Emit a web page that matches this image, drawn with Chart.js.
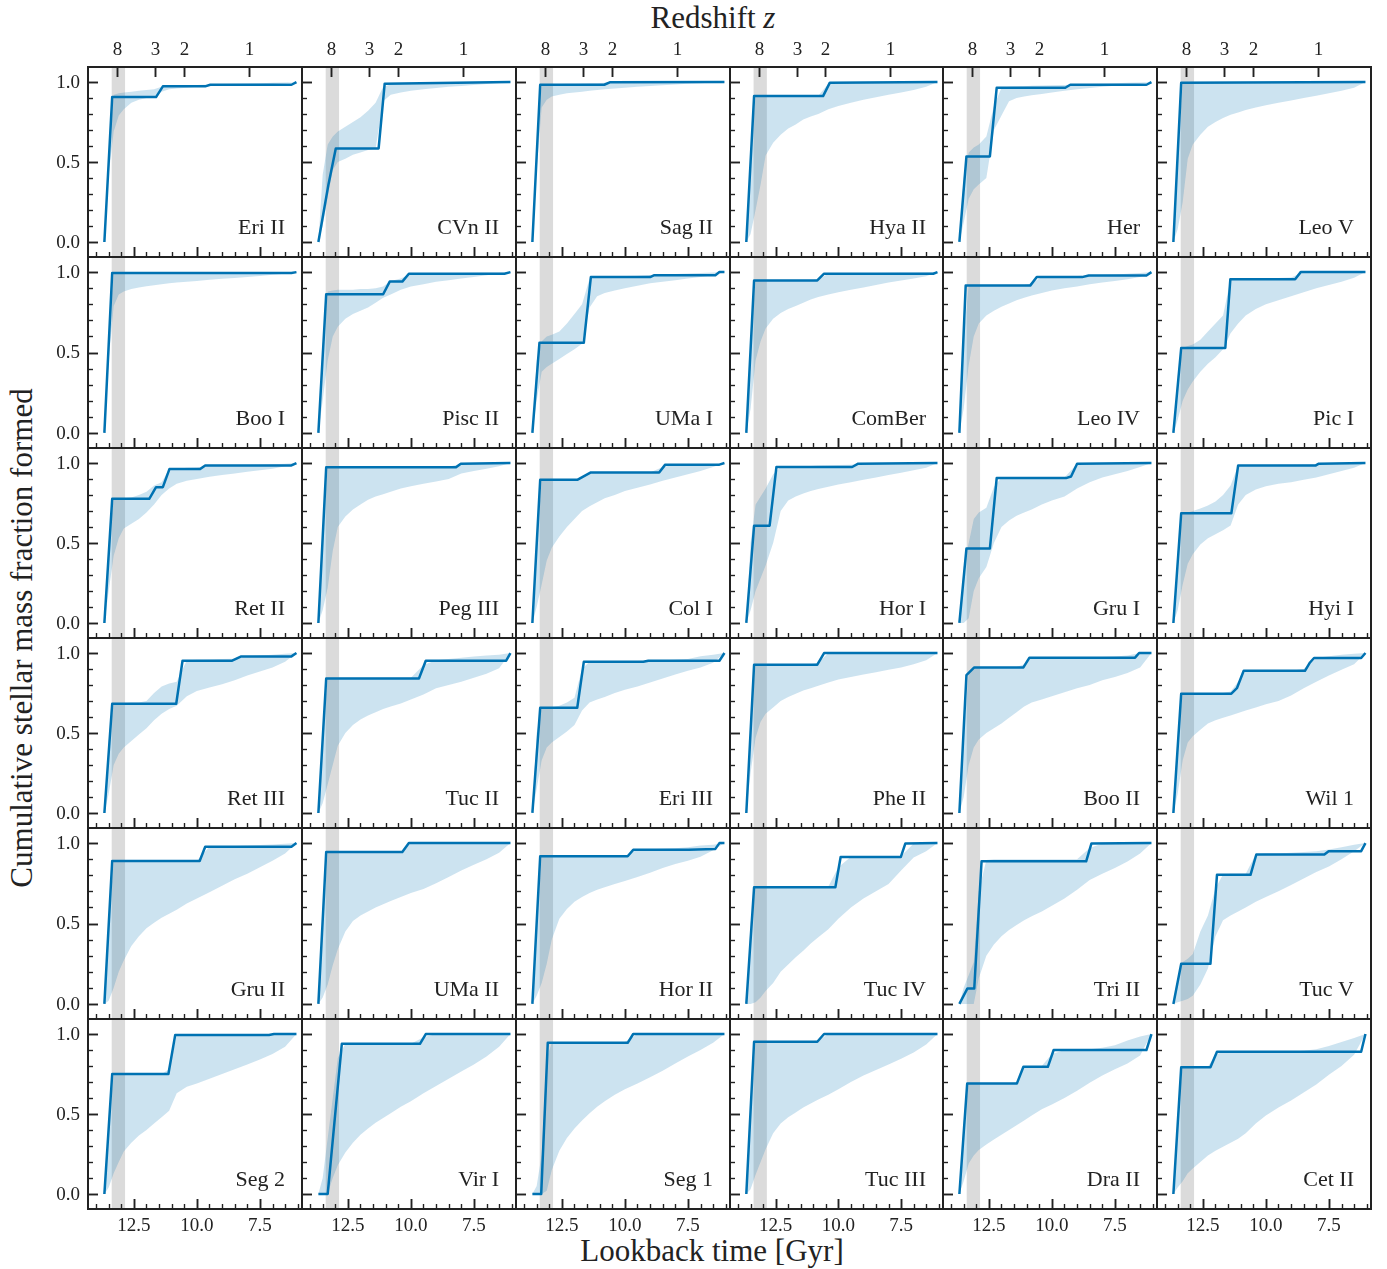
<!DOCTYPE html>
<html>
<head>
<meta charset="utf-8">
<script src="https://cdn.jsdelivr.net/npm/chart.js@4.4.4/dist/chart.umd.min.js"></script>
<style>
  body { margin: 0; background: #fff; }
  #wrap { position: relative; width: 1387px; height: 1269px; overflow: hidden; font-family: "Liberation Serif", serif; color: #222; }
  #wrap canvas { position: absolute; }
  .ttl { position: absolute; white-space: nowrap; font-size: 31px; transform: translate(-50%, -50%); }
</style>
</head>
<body>
<div id="wrap">
  <div class="ttl" style="left:713px; top:18px;">Redshift <i>z</i></div>
  <div class="ttl" style="left:712px; top:1251px;">Lookback time [Gyr]</div>
  <div class="ttl" style="left:22px; top:638px; transform: translate(-50%, -50%) rotate(-90deg);">Cumulative stellar mass fraction formed</div>
</div>
<script>
// one panel per galaxy, row-major order
const galaxyNames = [
  'Eri II', 'CVn II', 'Sag II', 'Hya II', 'Her', 'Leo V',
  'Boo I', 'Pisc II', 'UMa I', 'ComBer', 'Leo IV', 'Pic I',
  'Ret II', 'Peg III', 'Col I', 'Hor I', 'Gru I', 'Hyi I',
  'Ret III', 'Tuc II', 'Eri III', 'Phe II', 'Boo II', 'Wil 1',
  'Gru II', 'UMa II', 'Hor II', 'Tuc IV', 'Tri II', 'Tuc V',
  'Seg 2', 'Vir I', 'Seg 1', 'Tuc III', 'Dra II', 'Cet II'
];

// best-fit cumulative SFH: lookback times (Gyr) and mass fraction
const lineTimes = [
  [13.67, 13.36, 11.62, 11.35, 9.67, 9.47, 6.25, 6.05],
  [13.67, 13.27, 12.98, 11.28, 11.04, 6.05],
  [13.67, 13.36, 10.82, 10.6, 6.05],
  [13.67, 13.36, 10.61, 10.34, 6.05],
  [13.67, 13.39, 12.46, 12.19, 9.47, 9.27, 6.25, 6.05],
  [13.67, 13.36, 6.05],
  [13.67, 13.36, 6.25, 6.05],
  [13.67, 13.36, 11.10, 10.84, 10.34, 10.08, 6.29, 6.05],
  [13.67, 13.39, 11.63, 11.35, 9.0, 8.83, 6.41, 6.25, 6.05],
  [13.67, 13.36, 10.84, 10.57, 6.22, 6.05],
  [13.67, 13.42, 10.86, 10.6, 8.8, 8.54, 6.25, 6.05],
  [13.67, 13.36, 11.61, 11.41, 8.84, 8.62, 6.05],
  [13.67, 13.36, 11.89, 11.62, 11.35, 11.09, 9.87, 9.67, 6.25, 6.05],
  [13.67, 13.36, 8.21, 8.02, 6.05],
  [13.67, 13.36, 11.89, 11.35, 8.64, 8.40, 6.25, 6.05],
  [13.67, 13.36, 12.74, 12.47, 9.45, 9.21, 6.05],
  [13.67, 13.39, 12.46, 12.19, 9.44, 9.24, 9.0, 6.05],
  [13.67, 13.36, 11.37, 11.10, 8.02, 7.9, 6.05],
  [13.67, 13.36, 10.82, 10.57, 8.6, 8.24, 6.25, 6.05],
  [13.67, 13.36, 9.68, 9.41, 6.22, 6.05],
  [13.67, 13.36, 11.89, 11.63, 9.27, 9.07, 6.25, 6.05],
  [13.67, 13.36, 10.84, 10.57, 6.05],
  [13.67, 13.39, 13.08, 11.13, 10.89, 6.7, 6.54, 6.05],
  [13.67, 13.36, 11.37, 11.15, 10.88, 8.45, 8.25, 8.09, 6.22, 6.05],
  [13.67, 13.36, 9.89, 9.67, 6.25, 6.05],
  [13.67, 13.36, 10.34, 10.08, 6.05],
  [13.67, 13.36, 9.89, 9.67, 7.47, 6.41, 6.25, 6.05],
  [13.67, 13.36, 10.12, 9.91, 7.51, 7.33, 6.05],
  [13.67, 13.35, 13.08, 12.79, 8.64, 8.43, 6.05],
  [13.67, 13.36, 12.2, 11.94, 10.61, 10.38, 7.68, 7.51, 6.22, 6.05],
  [13.67, 13.36, 11.13, 10.86, 7.14, 6.94, 6.05],
  [13.67, 13.30, 12.74, 9.64, 9.41, 6.05],
  [13.67, 13.32, 13.06, 9.89, 9.67, 6.05],
  [13.67, 13.36, 10.84, 10.57, 6.05],
  [13.67, 13.36, 11.39, 11.13, 10.16, 9.93, 6.25, 6.05],
  [13.67, 13.36, 12.2, 11.94, 6.22, 6.05]
];
const lineFrac = [
  [0, 0.906, 0.906, 0.973, 0.973, 0.983, 0.983, 1],
  [0, 0.36, 0.585, 0.585, 0.99, 1],
  [0, 0.983, 0.983, 0.998, 1],
  [0, 0.912, 0.912, 0.996, 1],
  [0, 0.535, 0.535, 0.964, 0.964, 0.983, 0.983, 1],
  [0, 0.996, 1],
  [0, 0.995, 0.995, 1],
  [0, 0.862, 0.862, 0.941, 0.941, 0.99, 0.99, 1],
  [0, 0.56, 0.56, 0.969, 0.969, 0.981, 0.981, 1, 1],
  [0, 0.948, 0.948, 0.99, 0.99, 1],
  [0, 0.916, 0.916, 0.969, 0.969, 0.979, 0.979, 1],
  [0, 0.528, 0.528, 0.956, 0.956, 1, 1],
  [0, 0.776, 0.776, 0.849, 0.849, 0.962, 0.962, 0.985, 0.985, 1],
  [0, 0.973, 0.973, 0.996, 1],
  [0, 0.895, 0.895, 0.941, 0.941, 0.99, 0.99, 1],
  [0, 0.608, 0.608, 0.975, 0.975, 0.996, 1],
  [0, 0.465, 0.465, 0.906, 0.906, 0.916, 0.996, 1],
  [0, 0.686, 0.686, 0.985, 0.985, 0.996, 1],
  [0, 0.683, 0.683, 0.952, 0.952, 0.979, 0.979, 1],
  [0, 0.841, 0.841, 0.952, 0.952, 1],
  [0, 0.658, 0.658, 0.945, 0.945, 0.952, 0.952, 1],
  [0, 0.927, 0.927, 1, 1],
  [0, 0.862, 0.91, 0.91, 0.971, 0.971, 1, 1],
  [0, 0.746, 0.746, 0.78, 0.889, 0.889, 0.941, 0.969, 0.969, 1],
  [0, 0.889, 0.889, 0.977, 0.977, 1],
  [0, 0.945, 0.945, 1, 1],
  [0, 0.918, 0.918, 0.958, 0.958, 0.964, 1, 1],
  [0, 0.725, 0.725, 0.914, 0.914, 0.998, 1],
  [0, 0.096, 0.096, 0.887, 0.887, 0.998, 1],
  [0, 0.249, 0.249, 0.803, 0.803, 0.929, 0.929, 0.95, 0.95, 1],
  [0, 0.75, 0.75, 0.994, 0.994, 1, 1],
  [0, 0, 0.939, 0.939, 1, 1],
  [0, 0, 0.945, 0.945, 1, 1],
  [0, 0.952, 0.952, 1, 1],
  [0, 0.69, 0.69, 0.795, 0.795, 0.9, 0.9, 1],
  [0, 0.792, 0.792, 0.889, 0.889, 1]
];

// 68% band, sampled on a common time grid
const bandTimes = [13.67, 13.5, 13.3, 13.1, 12.9, 12.6, 12.3, 12.0, 11.7, 11.4, 11.1, 10.8, 10.4, 10.0, 9.5, 9.0, 8.5, 8.0, 7.5, 7.0, 6.5, 6.05];
const bandLow = [
  [0, 0.42, 0.69, 0.79, 0.83, 0.87, 0.89, 0.90, 0.905, 0.94, 0.955, 0.96, 0.965, 0.97, 0.975, 0.978, 0.98, 0.983, 0.985, 0.988, 0.992, 1],
  [0, 0.1, 0.28, 0.45, 0.5, 0.52, 0.545, 0.56, 0.575, 0.585, 0.88, 0.92, 0.935, 0.945, 0.955, 0.962, 0.97, 0.975, 0.982, 0.988, 0.994, 1],
  [0, 0.45, 0.84, 0.89, 0.91, 0.92, 0.93, 0.935, 0.94, 0.945, 0.95, 0.955, 0.96, 0.965, 0.97, 0.975, 0.98, 0.985, 0.99, 0.993, 0.997, 1],
  [0, 0.05, 0.2, 0.36, 0.54, 0.62, 0.67, 0.71, 0.735, 0.765, 0.785, 0.8, 0.83, 0.85, 0.87, 0.89, 0.905, 0.92, 0.935, 0.95, 0.97, 1],
  [0, 0.12, 0.27, 0.33, 0.36, 0.40, 0.7, 0.79, 0.88, 0.9, 0.91, 0.918, 0.925, 0.935, 0.945, 0.955, 0.963, 0.97, 0.977, 0.984, 0.99, 1],
  [0, 0.08, 0.25, 0.52, 0.61, 0.67, 0.72, 0.75, 0.775, 0.795, 0.81, 0.825, 0.84, 0.855, 0.87, 0.885, 0.9, 0.915, 0.93, 0.945, 0.965, 1],
  [0, 0.45, 0.79, 0.86, 0.88, 0.895, 0.905, 0.912, 0.918, 0.924, 0.93, 0.935, 0.94, 0.945, 0.952, 0.958, 0.964, 0.97, 0.976, 0.983, 0.99, 1],
  [0, 0.2, 0.45, 0.6, 0.66, 0.71, 0.74, 0.76, 0.78, 0.81, 0.84, 0.86, 0.89, 0.91, 0.925, 0.94, 0.95, 0.96, 0.97, 0.98, 0.99, 1],
  [0, 0.2, 0.38, 0.41, 0.43, 0.46, 0.49, 0.52, 0.555, 0.78, 0.85, 0.87, 0.885, 0.9, 0.915, 0.93, 0.94, 0.95, 0.96, 0.97, 0.98, 1],
  [0, 0.15, 0.45, 0.57, 0.65, 0.71, 0.745, 0.77, 0.79, 0.81, 0.83, 0.845, 0.86, 0.875, 0.89, 0.905, 0.92, 0.935, 0.948, 0.96, 0.975, 1],
  [0, 0.15, 0.42, 0.6, 0.68, 0.73, 0.76, 0.785, 0.805, 0.825, 0.84, 0.855, 0.87, 0.885, 0.9, 0.91, 0.925, 0.935, 0.945, 0.955, 0.97, 1],
  [0, 0.08, 0.2, 0.27, 0.32, 0.38, 0.43, 0.47, 0.52, 0.62, 0.68, 0.73, 0.77, 0.8, 0.825, 0.85, 0.875, 0.9, 0.92, 0.94, 0.965, 1],
  [0, 0.2, 0.42, 0.53, 0.59, 0.62, 0.65, 0.69, 0.74, 0.8, 0.84, 0.87, 0.89, 0.9, 0.915, 0.925, 0.935, 0.945, 0.955, 0.965, 0.98, 1],
  [0, 0.08, 0.22, 0.45, 0.6, 0.665, 0.71, 0.74, 0.77, 0.79, 0.805, 0.82, 0.84, 0.855, 0.87, 0.885, 0.9, 0.935, 0.95, 0.965, 0.98, 1],
  [0, 0.1, 0.24, 0.39, 0.47, 0.54, 0.6, 0.65, 0.7, 0.73, 0.755, 0.78, 0.8, 0.825, 0.845, 0.865, 0.89, 0.91, 0.93, 0.95, 0.975, 1],
  [0, 0.08, 0.2, 0.28, 0.36, 0.5, 0.7, 0.765, 0.79, 0.81, 0.825, 0.838, 0.852, 0.865, 0.88, 0.895, 0.91, 0.925, 0.94, 0.955, 0.97, 1],
  [0, 0, 0.03, 0.2, 0.28, 0.35, 0.5, 0.6, 0.64, 0.67, 0.69, 0.71, 0.74, 0.765, 0.79, 0.84, 0.88, 0.91, 0.93, 0.95, 0.975, 1],
  [0, 0.08, 0.24, 0.37, 0.43, 0.49, 0.53, 0.555, 0.58, 0.61, 0.74, 0.8, 0.835, 0.855, 0.87, 0.88, 0.895, 0.91, 0.93, 0.95, 0.97, 1],
  [0, 0.12, 0.3, 0.37, 0.41, 0.45, 0.49, 0.53, 0.58, 0.62, 0.65, 0.67, 0.73, 0.763, 0.785, 0.805, 0.83, 0.86, 0.885, 0.91, 0.945, 1],
  [0, 0.06, 0.18, 0.3, 0.42, 0.5, 0.55, 0.585, 0.61, 0.63, 0.65, 0.665, 0.685, 0.71, 0.74, 0.78, 0.8, 0.82, 0.845, 0.87, 0.905, 1],
  [0, 0.15, 0.33, 0.41, 0.44, 0.475, 0.51, 0.55, 0.64, 0.69, 0.71, 0.725, 0.75, 0.77, 0.79, 0.815, 0.84, 0.865, 0.89, 0.91, 0.94, 1],
  [0, 0.25, 0.47, 0.57, 0.62, 0.66, 0.7, 0.725, 0.745, 0.765, 0.78, 0.795, 0.815, 0.835, 0.85, 0.865, 0.88, 0.895, 0.91, 0.93, 0.955, 1],
  [0, 0.1, 0.3, 0.41, 0.46, 0.5, 0.53, 0.56, 0.595, 0.63, 0.665, 0.69, 0.71, 0.73, 0.755, 0.78, 0.8, 0.83, 0.85, 0.875, 0.91, 1],
  [0, 0.12, 0.33, 0.44, 0.48, 0.52, 0.56, 0.58, 0.595, 0.61, 0.625, 0.64, 0.66, 0.68, 0.7, 0.735, 0.78, 0.82, 0.86, 0.895, 0.93, 1],
  [0, 0.02, 0.1, 0.2, 0.27, 0.36, 0.42, 0.47, 0.505, 0.535, 0.56, 0.585, 0.625, 0.655, 0.695, 0.735, 0.775, 0.81, 0.85, 0.89, 0.935, 1],
  [0, 0.04, 0.12, 0.24, 0.34, 0.45, 0.515, 0.55, 0.575, 0.6, 0.62, 0.64, 0.665, 0.69, 0.715, 0.75, 0.79, 0.83, 0.865, 0.9, 0.94, 1],
  [0, 0.05, 0.13, 0.25, 0.4, 0.53, 0.59, 0.635, 0.665, 0.69, 0.71, 0.725, 0.745, 0.765, 0.79, 0.815, 0.845, 0.87, 0.89, 0.915, 0.955, 1],
  [0, 0, 0.01, 0.04, 0.08, 0.13, 0.2, 0.245, 0.29, 0.33, 0.375, 0.415, 0.465, 0.53, 0.6, 0.655, 0.7, 0.745, 0.83, 0.91, 0.95, 1],
  [0, 0, 0, 0, 0.16, 0.3, 0.37, 0.42, 0.46, 0.49, 0.52, 0.545, 0.575, 0.61, 0.655, 0.71, 0.77, 0.81, 0.845, 0.885, 0.935, 1],
  [0, 0.01, 0.02, 0.03, 0.05, 0.12, 0.22, 0.42, 0.52, 0.55, 0.575, 0.6, 0.635, 0.665, 0.7, 0.74, 0.78, 0.82, 0.855, 0.9, 0.95, 1],
  [0, 0.04, 0.13, 0.2, 0.265, 0.32, 0.365, 0.4, 0.44, 0.48, 0.52, 0.63, 0.67, 0.69, 0.72, 0.75, 0.78, 0.81, 0.84, 0.875, 0.92, 1],
  [0, 0, 0, 0.1, 0.18, 0.26, 0.32, 0.37, 0.41, 0.445, 0.475, 0.505, 0.545, 0.58, 0.63, 0.675, 0.72, 0.765, 0.81, 0.86, 0.92, 1],
  [0, 0, 0, 0.02, 0.15, 0.27, 0.35, 0.41, 0.46, 0.505, 0.545, 0.58, 0.62, 0.655, 0.69, 0.73, 0.77, 0.815, 0.86, 0.9, 0.945, 1],
  [0, 0.03, 0.12, 0.2, 0.28, 0.38, 0.44, 0.48, 0.51, 0.54, 0.565, 0.59, 0.62, 0.655, 0.7, 0.74, 0.775, 0.81, 0.845, 0.885, 0.935, 1],
  [0, 0.08, 0.19, 0.24, 0.275, 0.31, 0.34, 0.37, 0.4, 0.43, 0.46, 0.49, 0.53, 0.56, 0.6, 0.645, 0.695, 0.74, 0.78, 0.815, 0.865, 1],
  [0, 0.04, 0.08, 0.13, 0.16, 0.2, 0.24, 0.27, 0.295, 0.32, 0.345, 0.38, 0.44, 0.49, 0.54, 0.585, 0.635, 0.685, 0.745, 0.8, 0.87, 1]
];
const bandHigh = [
  [0, 0.55, 0.92, 0.93, 0.935, 0.94, 0.945, 0.95, 0.955, 0.97, 0.975, 0.978, 0.98, 0.982, 0.985, 0.988, 0.99, 0.991, 0.993, 0.995, 0.997, 1],
  [0, 0.42, 0.61, 0.66, 0.69, 0.72, 0.75, 0.78, 0.82, 0.87, 0.97, 0.985, 0.99, 0.99, 0.992, 0.994, 0.995, 0.996, 0.997, 0.998, 0.999, 1],
  [0, 0.6, 0.985, 0.986, 0.987, 0.988, 0.989, 0.99, 0.991, 0.992, 0.993, 0.995, 0.998, 0.998, 0.998, 0.999, 0.999, 0.999, 1, 1, 1, 1],
  [0, 0.55, 0.915, 0.915, 0.915, 0.915, 0.915, 0.915, 0.915, 0.915, 0.915, 0.915, 0.99, 0.997, 0.997, 0.998, 0.998, 0.998, 0.999, 0.999, 1, 1],
  [0, 0.4, 0.56, 0.59, 0.61, 0.66, 0.85, 0.965, 0.97, 0.972, 0.974, 0.976, 0.978, 0.98, 0.982, 0.985, 0.988, 0.99, 0.992, 0.995, 0.997, 1],
  [0, 0.55, 0.997, 0.997, 0.997, 0.997, 0.997, 0.997, 0.997, 0.997, 0.997, 0.997, 0.998, 0.998, 0.998, 0.998, 0.998, 0.999, 0.999, 0.999, 1, 1],
  [0, 0.6, 0.997, 0.998, 0.998, 0.998, 0.998, 0.998, 0.998, 0.998, 0.998, 0.998, 0.998, 0.998, 0.998, 0.998, 0.998, 0.999, 0.999, 0.999, 1, 1],
  [0, 0.55, 0.88, 0.885, 0.89, 0.89, 0.89, 0.895, 0.895, 0.9, 0.91, 0.945, 0.96, 0.99, 0.99, 0.992, 0.994, 0.995, 0.996, 0.997, 0.998, 1],
  [0, 0.45, 0.57, 0.60, 0.61, 0.63, 0.68, 0.74, 0.8, 0.96, 0.97, 0.972, 0.974, 0.976, 0.978, 0.982, 0.985, 0.988, 0.991, 0.994, 0.997, 1],
  [0, 0.55, 0.95, 0.95, 0.95, 0.95, 0.95, 0.95, 0.95, 0.95, 0.95, 0.955, 0.99, 0.992, 0.993, 0.994, 0.995, 0.996, 0.997, 0.998, 0.999, 1],
  [0, 0.6, 0.92, 0.92, 0.92, 0.92, 0.92, 0.92, 0.92, 0.92, 0.92, 0.93, 0.97, 0.972, 0.974, 0.976, 0.98, 0.982, 0.985, 0.99, 0.995, 1],
  [0, 0.35, 0.53, 0.54, 0.55, 0.58, 0.63, 0.68, 0.73, 0.956, 0.958, 0.96, 0.96, 0.962, 0.964, 0.966, 1, 1, 1, 1, 1, 1],
  [0, 0.5, 0.78, 0.78, 0.78, 0.785, 0.8, 0.82, 0.86, 0.88, 0.96, 0.965, 0.97, 0.972, 0.985, 0.986, 0.987, 0.988, 0.99, 0.992, 0.995, 1],
  [0, 0.55, 0.975, 0.975, 0.975, 0.975, 0.975, 0.975, 0.975, 0.975, 0.975, 0.975, 0.975, 0.975, 0.975, 0.975, 0.976, 0.996, 0.997, 0.998, 0.999, 1],
  [0, 0.5, 0.895, 0.895, 0.895, 0.895, 0.895, 0.895, 0.912, 0.94, 0.941, 0.941, 0.941, 0.941, 0.941, 0.941, 0.975, 0.99, 0.99, 0.99, 0.993, 1],
  [0, 0.5, 0.74, 0.79, 0.84, 0.93, 0.976, 0.977, 0.978, 0.98, 0.982, 0.984, 0.986, 0.988, 0.99, 0.996, 0.997, 0.998, 0.998, 0.999, 1, 1],
  [0, 0.35, 0.5, 0.65, 0.69, 0.72, 0.85, 0.91, 0.91, 0.91, 0.91, 0.91, 0.91, 0.91, 0.91, 0.996, 0.997, 0.998, 0.998, 0.999, 1, 1],
  [0, 0.45, 0.69, 0.69, 0.7, 0.715, 0.735, 0.76, 0.8, 0.86, 0.985, 0.986, 0.987, 0.988, 0.989, 0.99, 0.991, 0.993, 0.996, 0.998, 0.999, 1],
  [0, 0.45, 0.685, 0.685, 0.685, 0.69, 0.69, 0.7, 0.75, 0.79, 0.81, 0.82, 0.955, 0.958, 0.96, 0.962, 0.965, 0.98, 0.985, 0.99, 0.995, 1],
  [0, 0.5, 0.845, 0.845, 0.845, 0.845, 0.845, 0.845, 0.845, 0.845, 0.845, 0.845, 0.845, 0.845, 0.925, 0.955, 0.962, 0.97, 0.978, 0.985, 0.99, 1],
  [0, 0.5, 0.66, 0.66, 0.66, 0.67, 0.69, 0.72, 0.9, 0.947, 0.947, 0.947, 0.947, 0.947, 0.95, 0.953, 0.955, 0.958, 0.963, 0.98, 0.99, 1],
  [0, 0.6, 0.93, 0.93, 0.93, 0.93, 0.93, 0.93, 0.93, 0.93, 0.93, 0.94, 1, 1, 1, 1, 1, 1, 1, 1, 1, 1],
  [0, 0.5, 0.875, 0.91, 0.912, 0.912, 0.912, 0.912, 0.912, 0.912, 0.93, 0.972, 0.972, 0.972, 0.972, 0.972, 0.973, 0.975, 0.978, 0.985, 1, 1],
  [0, 0.5, 0.75, 0.75, 0.75, 0.75, 0.75, 0.75, 0.75, 0.76, 0.82, 0.89, 0.89, 0.89, 0.89, 0.89, 0.9, 0.97, 0.98, 0.99, 0.995, 1],
  [0, 0.5, 0.89, 0.89, 0.89, 0.89, 0.89, 0.89, 0.89, 0.89, 0.89, 0.89, 0.89, 0.89, 0.978, 0.98, 0.982, 0.985, 0.988, 0.992, 0.996, 1],
  [0, 0.5, 0.945, 0.945, 0.945, 0.945, 0.945, 0.945, 0.945, 0.945, 0.945, 0.945, 0.945, 1, 1, 1, 1, 1, 1, 1, 1, 1],
  [0, 0.5, 0.92, 0.92, 0.92, 0.92, 0.92, 0.92, 0.92, 0.92, 0.92, 0.92, 0.92, 0.92, 0.96, 0.962, 0.965, 0.968, 0.975, 0.985, 0.99, 1],
  [0, 0.5, 0.73, 0.73, 0.73, 0.73, 0.73, 0.73, 0.73, 0.73, 0.73, 0.73, 0.73, 0.85, 0.915, 0.915, 0.915, 0.915, 0.92, 0.998, 0.999, 1],
  [0, 0.1, 0.18, 0.26, 0.7, 0.895, 0.9, 0.9, 0.9, 0.9, 0.9, 0.9, 0.9, 0.9, 0.9, 0.9, 0.97, 0.998, 0.999, 0.999, 1, 1],
  [0, 0.15, 0.26, 0.28, 0.31, 0.45, 0.55, 0.72, 0.805, 0.81, 0.81, 0.81, 0.93, 0.935, 0.935, 0.94, 0.945, 0.95, 0.96, 0.975, 0.99, 1],
  [0, 0.45, 0.75, 0.75, 0.75, 0.75, 0.75, 0.75, 0.75, 0.75, 0.78, 0.994, 0.994, 0.994, 0.994, 0.994, 0.994, 0.995, 0.996, 1, 1, 1],
  [0, 0.1, 0.35, 0.6, 0.85, 0.94, 0.94, 0.94, 0.94, 0.94, 0.94, 0.94, 0.94, 0.94, 0.98, 1, 1, 1, 1, 1, 1, 1],
  [0, 0.05, 0.25, 0.85, 0.945, 0.945, 0.945, 0.945, 0.945, 0.945, 0.945, 0.945, 0.945, 0.95, 1, 1, 1, 1, 1, 1, 1, 1],
  [0, 0.5, 0.955, 0.955, 0.955, 0.955, 0.955, 0.955, 0.955, 0.955, 0.955, 0.96, 1, 1, 1, 1, 1, 1, 1, 1, 1, 1],
  [0, 0.45, 0.69, 0.69, 0.69, 0.69, 0.69, 0.69, 0.69, 0.7, 0.8, 0.8, 0.8, 0.875, 0.9, 0.9, 0.905, 0.915, 0.93, 0.96, 0.985, 1],
  [0, 0.5, 0.795, 0.795, 0.795, 0.795, 0.795, 0.87, 0.89, 0.89, 0.89, 0.89, 0.89, 0.89, 0.89, 0.89, 0.895, 0.905, 0.925, 0.95, 0.975, 1]
];

// axis ticks
const yMajorTicks = [0, 0.5, 1.0];
const xMajorTicks = [12.5, 10.0, 7.5];
const zTickLabels = ['8', '3', '2', '1'];
const zTickTimes = [13.18, 11.65, 10.52, 7.93];   // lookback time at z = 8, 3, 2, 1
const reionBand = [12.85, 13.38];

const T_MIN = 5.83, T_MAX = 14.32;
const F_MIN = -0.094, F_MAX = 1.094;

const GRID_LEFT = 88, GRID_TOP = 67, GRID_W = 1283, GRID_H = 1142, NCOL = 6, NROW = 6;
const PAD = 60;
const LINE_COLOR = '#0072b2';
const BAND_COLOR = 'rgba(0,114,178,0.2)';
const INK = '#222';
const FONT = '"Liberation Serif", "Times New Roman", serif';

const panelDeco = {
  id: 'panelDeco',
  beforeDatasetsDraw(chart) {
    const { ctx, chartArea: a, scales: { x } } = chart;
    const x0 = x.getPixelForValue(reionBand[1]);
    const x1 = x.getPixelForValue(reionBand[0]);
    ctx.save();
    ctx.fillStyle = 'rgba(0,0,0,0.14)';
    ctx.fillRect(x0, a.top, x1 - x0, a.bottom - a.top);
    ctx.restore();
  },
  afterDraw(chart, args, opts) {
    const { ctx, chartArea: a, scales: { x, y } } = chart;
    ctx.save();
    ctx.strokeStyle = INK;
    ctx.lineCap = 'butt';

    const tick = (x0, y0, x1, y1, w) => {
      ctx.lineWidth = w;
      ctx.beginPath(); ctx.moveTo(x0, y0); ctx.lineTo(x1, y1); ctx.stroke();
    };

    // left: minor every 0.1, major at 0, 0.5, 1
    for (let k = 0; k <= 10; k++) {
      const v = k / 10;
      const py = Math.round(y.getPixelForValue(v)) + 0.5;
      const major = yMajorTicks.some(m => Math.abs(m - v) < 1e-6);
      tick(a.left, py, a.left + (major ? 10 : 5), py, major ? 1.9 : 1.4);
    }
    // bottom: minor every 0.5 Gyr, major at 12.5 / 10 / 7.5
    for (let k = 12; k <= 28; k++) {
      const v = k / 2;
      const px = Math.round(x.getPixelForValue(v)) + 0.5;
      const major = xMajorTicks.some(m => Math.abs(m - v) < 1e-6);
      tick(px, a.bottom, px, a.bottom - (major ? 10 : 5), major ? 1.9 : 1.4);
    }

    // frame
    ctx.lineWidth = 2;
    ctx.strokeRect(a.left, a.top, a.right - a.left, a.bottom - a.top);

    ctx.fillStyle = INK;
    ctx.font = '19px ' + FONT;

    // redshift axis on the top row
    if (opts.row === 0) {
      ctx.textAlign = 'center';
      ctx.textBaseline = 'alphabetic';
      zTickTimes.forEach((t, i) => {
        const px = Math.round(x.getPixelForValue(t)) + 0.5;
        tick(px, a.top, px, a.top + 10, 1.9);
        ctx.fillText(zTickLabels[i], px, a.top - 12);
      });
    }
    if (opts.col === 0) {
      ctx.textAlign = 'right';
      ctx.textBaseline = 'middle';
      yMajorTicks.forEach(v => ctx.fillText(v.toFixed(1), a.left - 8, y.getPixelForValue(v) + 1));
    }
    if (opts.row === NROW - 1) {
      ctx.textAlign = 'center';
      ctx.textBaseline = 'middle';
      xMajorTicks.forEach(v => ctx.fillText(v.toFixed(1), x.getPixelForValue(v), a.bottom + 17));
    }

    // galaxy name
    ctx.font = '22px ' + FONT;
    ctx.textAlign = 'right';
    ctx.textBaseline = 'alphabetic';
    ctx.fillText(opts.name, a.right - 17, a.bottom - 23);
    ctx.restore();
  }
};

const wrap = document.getElementById('wrap');
const pts = (ts, vs) => ts.map((t, k) => ({ x: t, y: vs[k] })).reverse();

galaxyNames.forEach((name, i) => {
  const row = Math.floor(i / NCOL), col = i % NCOL;
  const L = Math.round(GRID_LEFT + col * GRID_W / NCOL);
  const R = Math.round(GRID_LEFT + (col + 1) * GRID_W / NCOL);
  const T = Math.round(GRID_TOP + row * GRID_H / NROW);
  const B = Math.round(GRID_TOP + (row + 1) * GRID_H / NROW);

  const cv = document.createElement('canvas');
  const w = R - L + 2 * PAD, h = B - T + 2 * PAD;
  cv.width = w; cv.height = h;
  cv.style.left = (L - PAD) + 'px';
  cv.style.top = (T - PAD) + 'px';
  cv.style.width = w + 'px';
  cv.style.height = h + 'px';
  wrap.appendChild(cv);

  new Chart(cv, {
    type: 'line',
    data: {
      datasets: [
        { data: pts(lineTimes[i], lineFrac[i]), borderColor: LINE_COLOR, borderWidth: 2.5,
          borderJoinStyle: 'round', pointRadius: 0, fill: false, tension: 0, order: 0 },
        { data: pts(bandTimes, bandHigh[i]), borderColor: 'rgba(0,0,0,0)', borderWidth: 0,
          pointRadius: 0, fill: '+1', backgroundColor: BAND_COLOR, tension: 0, order: 1 },
        { data: pts(bandTimes, bandLow[i]), borderColor: 'rgba(0,0,0,0)', borderWidth: 0,
          pointRadius: 0, fill: false, tension: 0, order: 2 }
      ]
    },
    options: {
      responsive: false,
      animation: false,
      devicePixelRatio: 1,
      events: [],
      layout: { padding: PAD },
      plugins: {
        legend: { display: false },
        tooltip: { enabled: false },
        panelDeco: { name, row, col }
      },
      scales: {
        x: { type: 'linear', display: false, min: T_MIN, max: T_MAX, reverse: true },
        y: { type: 'linear', display: false, min: F_MIN, max: F_MAX }
      }
    },
    plugins: [panelDeco]
  });
});
</script>
</body>
</html>
